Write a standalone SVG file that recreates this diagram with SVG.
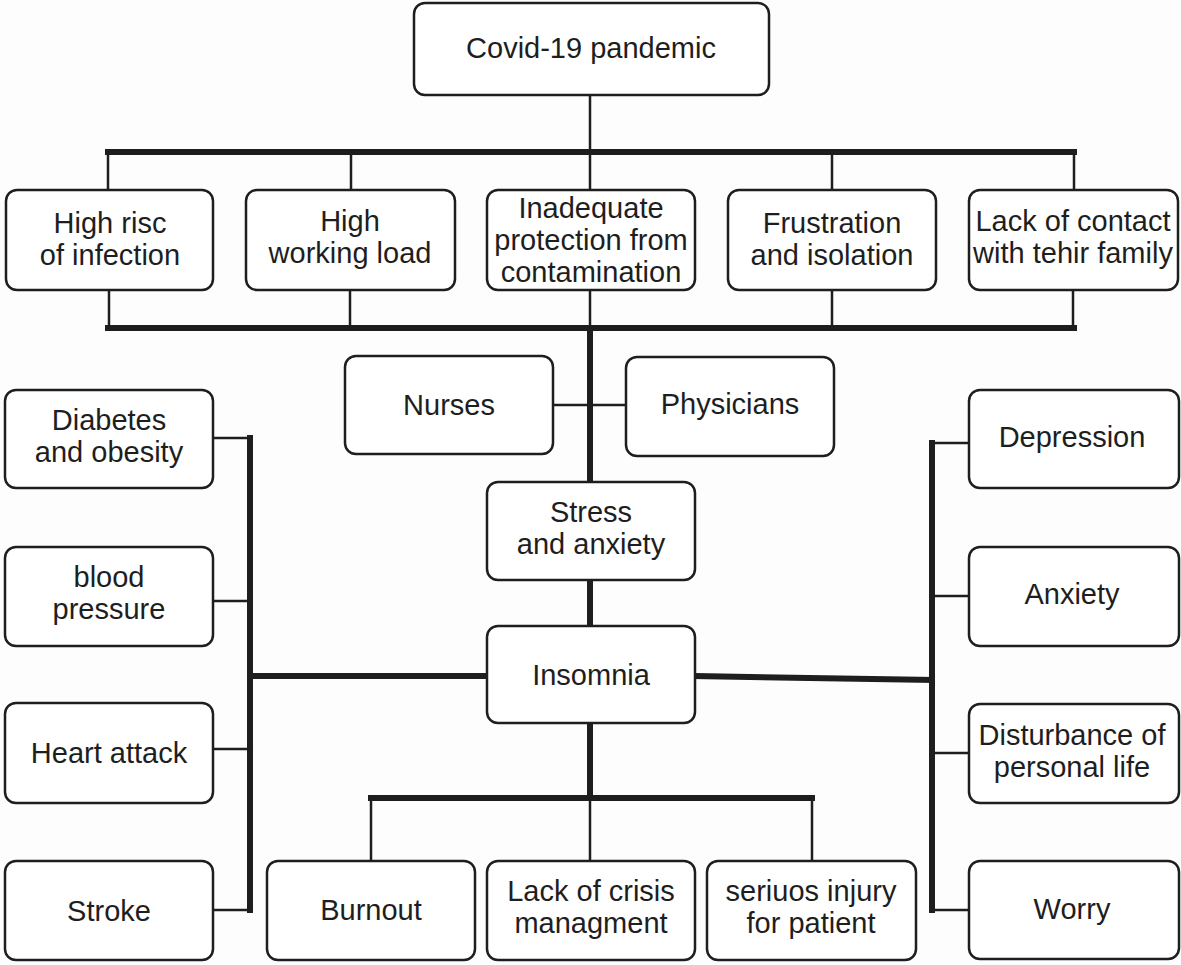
<svg xmlns="http://www.w3.org/2000/svg" width="1181" height="965" viewBox="0 0 1181 965">
<style>
.b{fill:#fff;stroke:#1e1e1e;stroke-width:2.5}
.t{font-family:"Liberation Sans",Arial,sans-serif;font-size:29px;fill:#1e1e1e;text-anchor:middle}
.k{stroke:#1e1e1e;stroke-width:6;fill:none;stroke-linecap:square}
.n{stroke:#1e1e1e;stroke-width:2.5;fill:none}
</style>
<rect width="1181" height="965" fill="#fdfdfd"/>
<g id="connectors">
<line class="n" x1="590" y1="95" x2="590" y2="152"/>
<line class="k" x1="108" y1="152" x2="1074" y2="152"/>
<line class="n" x1="108" y1="152" x2="108" y2="190"/>
<line class="n" x1="351" y1="152" x2="351" y2="190"/>
<line class="n" x1="590" y1="152" x2="590" y2="190"/>
<line class="n" x1="832" y1="152" x2="832" y2="190"/>
<line class="n" x1="1074" y1="152" x2="1074" y2="190"/>
<line class="n" x1="109" y1="290" x2="109" y2="328"/>
<line class="n" x1="350" y1="290" x2="350" y2="328"/>
<line class="n" x1="590" y1="290" x2="590" y2="328"/>
<line class="n" x1="832" y1="290" x2="832" y2="328"/>
<line class="n" x1="1073" y1="290" x2="1073" y2="328"/>
<line class="k" x1="108" y1="328" x2="1074" y2="328"/>
<line class="k" x1="590" y1="328" x2="590" y2="482"/>
<line class="n" x1="553" y1="405" x2="626" y2="405"/>
<line class="k" x1="590" y1="580" x2="590" y2="626"/>
<line class="k" x1="590" y1="723" x2="590" y2="798"/>
<line class="k" x1="371" y1="798" x2="812" y2="798"/>
<line class="n" x1="371" y1="798" x2="371" y2="861"/>
<line class="n" x1="590" y1="798" x2="590" y2="861"/>
<line class="n" x1="812" y1="798" x2="812" y2="861"/>
<line class="k" x1="250" y1="438" x2="250" y2="910"/>
<line class="n" x1="213" y1="438" x2="250" y2="438"/>
<line class="n" x1="213" y1="601" x2="250" y2="601"/>
<line class="n" x1="213" y1="749" x2="250" y2="749"/>
<line class="n" x1="213" y1="910" x2="250" y2="910"/>
<line class="k" x1="250" y1="676" x2="487" y2="676"/>
<line class="k" x1="932" y1="443" x2="932" y2="910"/>
<line class="n" x1="932" y1="443" x2="969" y2="443"/>
<line class="n" x1="932" y1="596" x2="969" y2="596"/>
<line class="n" x1="932" y1="753" x2="969" y2="753"/>
<line class="n" x1="932" y1="910" x2="969" y2="910"/>
<line class="k" x1="695" y1="676" x2="932" y2="680"/>
</g>
<g id="covid"><rect class="b" x="414" y="3" width="355" height="92" rx="11"/><text class="t" x="591" y="58">Covid-19 pandemic</text></g>
<g id="risk"><rect class="b" x="6" y="190" width="207" height="100" rx="11"/><text class="t" x="110" y="233">High risc</text><text class="t" x="110" y="265">of infection</text></g>
<g id="load"><rect class="b" x="246" y="190" width="209" height="100" rx="11"/><text class="t" x="350" y="231">High</text><text class="t" x="350" y="263">working load</text></g>
<g id="inadequate"><rect class="b" x="487" y="190" width="208" height="100" rx="11"/><text class="t" x="591" y="218">Inadequate</text><text class="t" x="591" y="250">protection from</text><text class="t" x="591" y="282">contamination</text></g>
<g id="frustration"><rect class="b" x="728" y="190" width="208" height="100" rx="11"/><text class="t" x="832" y="233">Frustration</text><text class="t" x="832" y="265">and isolation</text></g>
<g id="contact"><rect class="b" x="969" y="190" width="209" height="100" rx="11"/><text class="t" x="1073" y="231">Lack of contact</text><text class="t" x="1073" y="263">with tehir family</text></g>
<g id="nurses"><rect class="b" x="345" y="356" width="208" height="98" rx="11"/><text class="t" x="449" y="415">Nurses</text></g>
<g id="physicians"><rect class="b" x="626" y="357" width="208" height="99" rx="11"/><text class="t" x="730" y="414">Physicians</text></g>
<g id="stress"><rect class="b" x="487" y="482" width="208" height="98" rx="11"/><text class="t" x="591" y="522">Stress</text><text class="t" x="591" y="554">and anxiety</text></g>
<g id="insomnia"><rect class="b" x="487" y="626" width="208" height="97" rx="11"/><text class="t" x="591" y="685">Insomnia</text></g>
<g id="diabetes"><rect class="b" x="5" y="390" width="208" height="98" rx="11"/><text class="t" x="109" y="430">Diabetes</text><text class="t" x="109" y="462">and obesity</text></g>
<g id="blood"><rect class="b" x="5" y="547" width="208" height="99" rx="11"/><text class="t" x="109" y="587">blood</text><text class="t" x="109" y="619">pressure</text></g>
<g id="heart"><rect class="b" x="5" y="703" width="208" height="100" rx="11"/><text class="t" x="109" y="763">Heart attack</text></g>
<g id="stroke"><rect class="b" x="5" y="861" width="208" height="99" rx="11"/><text class="t" x="109" y="921">Stroke</text></g>
<g id="depression"><rect class="b" x="969" y="390" width="210" height="98" rx="11"/><text class="t" x="1072" y="447">Depression</text></g>
<g id="anxiety"><rect class="b" x="969" y="547" width="210" height="99" rx="11"/><text class="t" x="1072" y="604">Anxiety</text></g>
<g id="disturbance"><rect class="b" x="969" y="704" width="210" height="99" rx="11"/><text class="t" x="1072" y="745">Disturbance of</text><text class="t" x="1072" y="777">personal life</text></g>
<g id="worry"><rect class="b" x="969" y="861" width="210" height="98" rx="11"/><text class="t" x="1072" y="919">Worry</text></g>
<g id="burnout"><rect class="b" x="267" y="861" width="208" height="99" rx="11"/><text class="t" x="371" y="920">Burnout</text></g>
<g id="crisis"><rect class="b" x="487" y="861" width="208" height="99" rx="11"/><text class="t" x="591" y="901">Lack of crisis</text><text class="t" x="591" y="933">managment</text></g>
<g id="injury"><rect class="b" x="707" y="861" width="209" height="99" rx="11"/><text class="t" x="811" y="901">seriuos injury</text><text class="t" x="811" y="933">for patient</text></g>
</svg>
